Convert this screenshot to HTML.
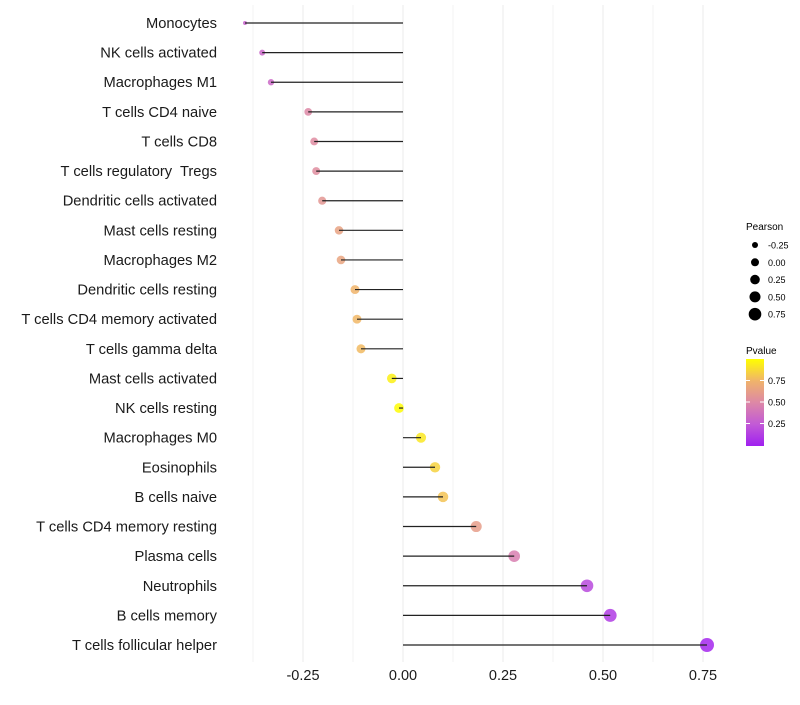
<!DOCTYPE html>
<html><head><meta charset="utf-8"><style>
body{margin:0;background:#fff;font-family:"Liberation Sans",sans-serif}
svg text{font-family:"Liberation Sans",sans-serif;white-space:pre}
</style></head><body>
<svg id="chart" width="800" height="700">
<defs><linearGradient id="pg" x1="0" y1="1" x2="0" y2="0">
<stop offset="0" stop-color="#a020f0"/><stop offset="0.25" stop-color="#c25ad6"/>
<stop offset="0.5" stop-color="#dd88a6"/><stop offset="0.75" stop-color="#f0b46a"/>
<stop offset="1" stop-color="#ffff00"/></linearGradient></defs>
<g id="grid"></g><g id="marks"></g><g id="ylabels"></g><g id="xticks"></g>
<g>
<text x="746" y="230" font-size="10">Pearson</text>
<g id="sizeleg"></g>
</g>
<g>
<text x="746" y="354" font-size="10">Pvalue</text>
<rect x="746" y="359" width="18" height="87" fill="url(#pg)"/>
<g id="colleg"></g>
</g>
</svg>
<script>
const categories=["Monocytes","NK cells activated","Macrophages M1","T cells CD4 naive","T cells CD8","T cells regulatory  Tregs","Dendritic cells activated","Mast cells resting","Macrophages M2","Dendritic cells resting","T cells CD4 memory activated","T cells gamma delta","Mast cells activated","NK cells resting","Macrophages M0","Eosinophils","B cells naive","T cells CD4 memory resting","Plasma cells","Neutrophils","B cells memory","T cells follicular helper"];
const pearson=[-0.395,-0.352,-0.33,-0.237,-0.222,-0.217,-0.202,-0.16,-0.155,-0.12,-0.115,-0.105,-0.028,-0.01,0.045,0.08,0.1,0.183,0.278,0.46,0.518,0.76];
const pvalue=[0.3,0.32,0.33,0.5,0.52,0.53,0.58,0.65,0.66,0.75,0.76,0.77,0.95,0.99,0.92,0.85,0.8,0.62,0.45,0.18,0.12,0.03];
const xTicks=[-0.25,0,0.25,0.5,0.75];
const xTickLabels=["-0.25","0.00","0.25","0.50","0.75"];
const sizeLegend=[-0.25,0,0.25,0.5,0.75];
const colorTicks=[0.25,0.5,0.75];
const ns="http://www.w3.org/2000/svg";
const x=v=>403+400*v;
const y=i=>23+i*(622/21);
const r=v=>2+5*Math.sqrt(Math.max(0,(v+0.395)/1.155));
function col(p){const st=[[0,[160,32,240]],[0.25,[194,90,214]],[0.5,[221,136,166]],[0.75,[240,180,106]],[1,[255,255,0]]];
for(let k=1;k<st.length;k++){if(p<=st[k][0]){const t=(p-st[k-1][0])/(st[k][0]-st[k-1][0]);const a=st[k-1][1],b=st[k][1];return `rgb(${a.map((c,j)=>Math.round(c+(b[j]-c)*t)).join(',')})`;}}return 'rgb(255,255,0)';}
function el(t,a,p){const e=document.createElementNS(ns,t);for(const k in a)e.setAttribute(k,a[k]);p.appendChild(e);return e;}
const grid=document.getElementById('grid');
for(let k=-3;k<=6;k++){const v=k*0.125;const g=el('line',{x1:x(v),x2:x(v),y1:5,y2:662,stroke:(k%2===0)?'#ebebeb':'#f3f3f3','stroke-width':1},grid);

}
const marks=document.getElementById('marks'),yl=document.getElementById('ylabels');
categories.forEach((c,i)=>{
const pt=el('circle',{cx:x(pearson[i]),cy:y(i),r:r(pearson[i]),fill:col(pvalue[i]),'fill-opacity':0.85},marks);


const ln=el('line',{x1:x(0),x2:x(pearson[i]),y1:y(i),y2:y(i),stroke:'#222','stroke-width':1.2},marks);


const t=el('text',{x:217,y:y(i)+5,'text-anchor':'end','font-size':14.7,fill:'#1a1a1a'},yl);t.textContent=c;


});
const xt=document.getElementById('xticks');
xTicks.forEach((v,i)=>{const t=el('text',{x:x(v),y:680,'text-anchor':'middle','font-size':14.5,fill:'#1a1a1a'},xt);t.textContent=xTickLabels[i];

});
const sl=document.getElementById('sizeleg');
const legR=[3,4,4.8,5.5,6.3];
sizeLegend.forEach((v,i)=>{const cy=245+i*17.3;el('circle',{cx:755,cy:cy,r:legR[i],fill:'#000'},sl);
const t=el('text',{x:768,y:cy+3.5,'font-size':9},sl);t.textContent=v.toFixed(2);

});
const cl=document.getElementById('colleg');
colorTicks.forEach(v=>{const cy=445-86*v;el('line',{x1:746,x2:750,y1:cy,y2:cy,stroke:'#fff'},cl);el('line',{x1:760,x2:764,y1:cy,y2:cy,stroke:'#fff'},cl);
const t=el('text',{x:768,y:cy+3.5,'font-size':9},cl);t.textContent=v.toFixed(2);

});
</script>
</body></html>
